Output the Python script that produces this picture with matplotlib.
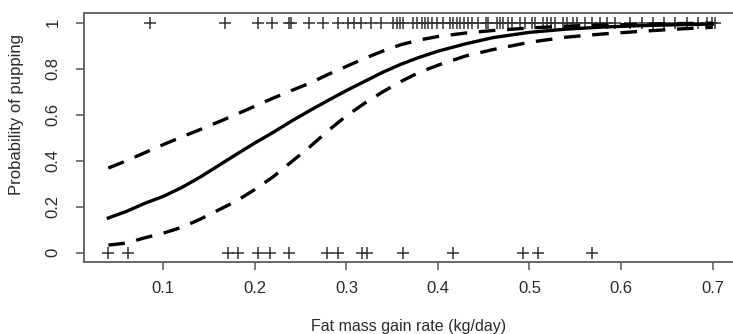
import numpy as np
import matplotlib
matplotlib.use("Agg")
import matplotlib.pyplot as plt

plt.rcParams['font.family'] = ['Liberation Sans', 'DejaVu Sans']

# observed outcomes: fat mass gain rate of animals that did not pup (0) / pupped (1)
x_not_pupped = [0.040, 0.061, 0.171, 0.182, 0.203, 0.217, 0.237, 0.279, 0.291,
                0.317, 0.322, 0.362, 0.416, 0.493, 0.509, 0.568]
x_pupped = [0.086, 0.167, 0.203, 0.219, 0.237, 0.240, 0.259, 0.275, 0.291, 0.302,
            0.308, 0.316, 0.327, 0.338, 0.351, 0.355, 0.359, 0.362, 0.373, 0.377,
            0.383, 0.386, 0.389, 0.394, 0.399, 0.405, 0.413, 0.417, 0.421, 0.424,
            0.428, 0.433, 0.437, 0.444, 0.452, 0.455, 0.465, 0.468, 0.471, 0.477,
            0.481, 0.490, 0.495, 0.503, 0.506, 0.515, 0.519, 0.523, 0.528, 0.537,
            0.541, 0.548, 0.552, 0.561, 0.568, 0.577, 0.585, 0.593, 0.610, 0.623,
            0.635, 0.647, 0.659, 0.672, 0.684, 0.694, 0.699, 0.703]

# fitted probability and confidence band
fit_x = [0.04, 0.06, 0.08, 0.10, 0.12, 0.14, 0.16, 0.18, 0.20, 0.22, 0.24, 0.26,
         0.28, 0.30, 0.32, 0.34, 0.36, 0.38, 0.40, 0.43, 0.46, 0.50, 0.54, 0.58,
         0.62, 0.66, 0.70]
fit_p = [0.151, 0.180, 0.215, 0.245, 0.283, 0.328, 0.378, 0.428, 0.477, 0.523,
         0.572, 0.618, 0.662, 0.705, 0.745, 0.785, 0.820, 0.850, 0.876, 0.908,
         0.935, 0.958, 0.972, 0.981, 0.987, 0.991, 0.994]
upper_p = [0.368, 0.400, 0.435, 0.470, 0.503, 0.535, 0.568, 0.602, 0.637, 0.672,
           0.705, 0.737, 0.775, 0.810, 0.845, 0.877, 0.905, 0.925, 0.940, 0.955,
           0.966, 0.977, 0.985, 0.990, 0.993, 0.996, 0.998]
lower_p = [0.033, 0.042, 0.065, 0.085, 0.110, 0.145, 0.185, 0.225, 0.275, 0.330,
           0.395, 0.460, 0.530, 0.595, 0.650, 0.700, 0.745, 0.785, 0.815, 0.855,
           0.883, 0.915, 0.937, 0.951, 0.962, 0.972, 0.980]

xticks = [0.1, 0.2, 0.3, 0.4, 0.5, 0.6, 0.7]
yticks = [0, 0.2, 0.4, 0.6, 0.8, 1]
ytick_labels = ["0", "0.2", "0.4", "0.6", "0.8", "1"]

fig = plt.figure(figsize=(7.33, 3.34), dpi=100)
ax = fig.add_axes([0.1146, 0.2159, 0.897, 0.7437])

pt_style = dict(marker='+', linestyle='none', color='#333333', markersize=8.5, markeredgewidth=1.1)
ax.plot(x_not_pupped, np.zeros(len(x_not_pupped)), **pt_style)
ax.plot(x_pupped, np.ones(len(x_pupped)), **pt_style)

ax.plot(fit_x, fit_p, color='black', lw=2.4, solid_joinstyle='round')
ax.plot(fit_x, upper_p, color='black', lw=2.4, dashes=(5, 3.5))
ax.plot(fit_x, lower_p, color='black', lw=2.4, dashes=(5, 3.5))

ax.set_xlim(0.0134, 0.7316)
ax.set_ylim(-0.04, 1.04)
ax.set_xticks(xticks)
ax.set_yticks(yticks)
ax.set_yticklabels(ytick_labels, rotation=90, va='center')

for s in ax.spines.values():
    s.set_color('#666666')
    s.set_linewidth(1.4)
ax.tick_params(axis='both', direction='out', length=6, width=1.1, color='#555555',
               labelsize=12, labelcolor='#2a2a2a')
ax.tick_params(axis='x', pad=8)
ax.tick_params(axis='y', pad=11)

ax.set_xlabel('Fat mass gain rate (kg/day)', fontsize=11.5, color='#2a2a2a', va='center')
ax.xaxis.set_label_coords(0.493, -0.262)
ax.set_ylabel('Probability of pupping', fontsize=12, color='#2a2a2a', va='center')
ax.yaxis.set_label_coords(-0.102, 0.595)

fig.savefig('out.png', dpi=100)
